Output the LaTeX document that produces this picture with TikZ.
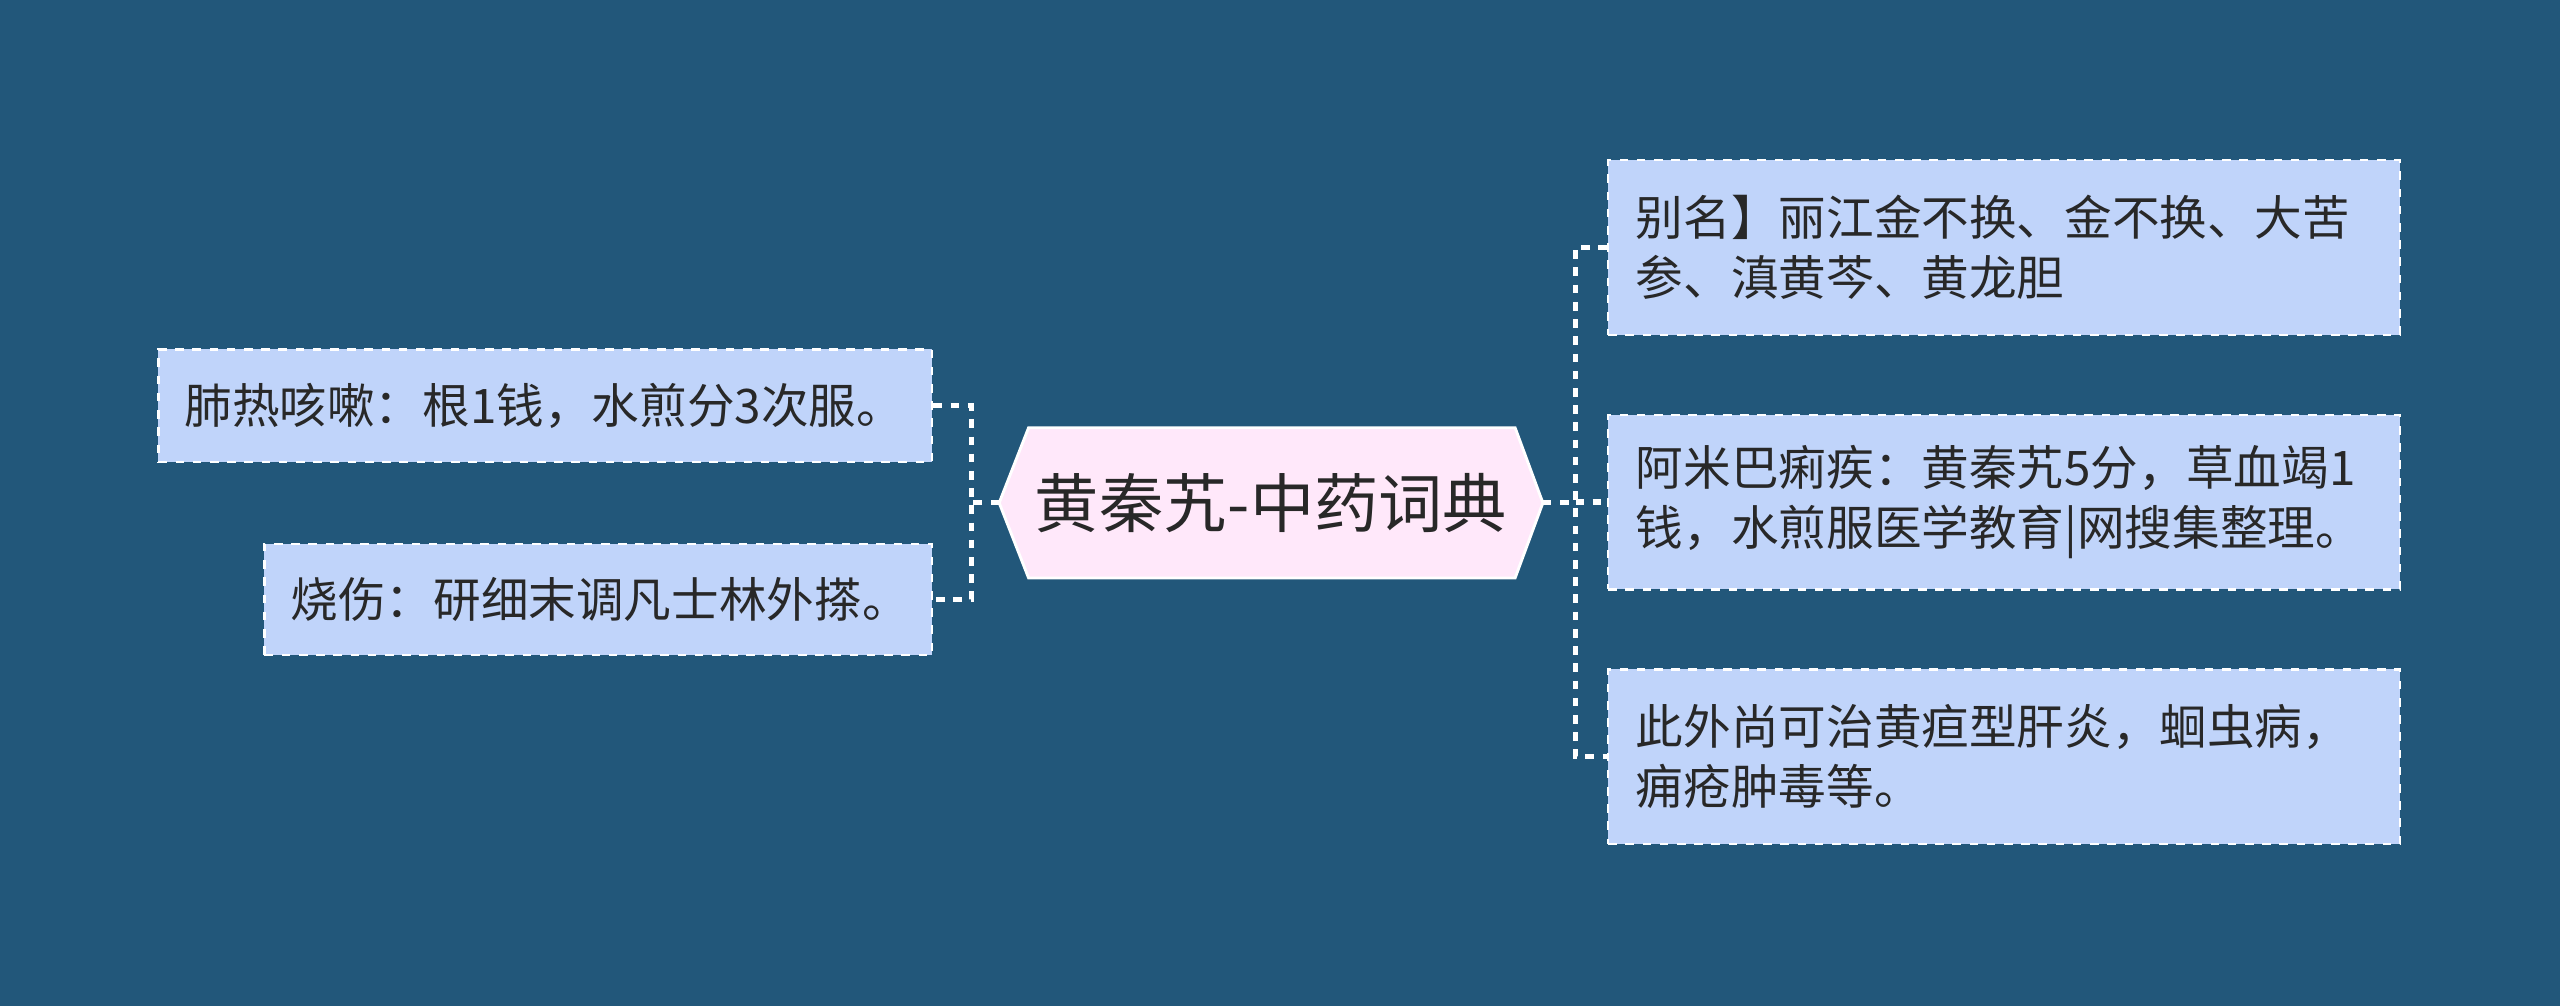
\documentclass[tikz,border=0pt]{standalone}
\usepackage{fontspec}
\setmainfont{Noto Sans CJK SC}
\definecolor{bg}{RGB}{34,87,122}
\definecolor{leaf}{RGB}{192,212,250}
\definecolor{ctr}{RGB}{255,232,250}
\definecolor{txt}{RGB}{40,40,40}
\tikzset{leafbox/.style={draw=white,dashed,fill=leaf,line width=0.8pt,inner sep=0pt,text=txt,font=\fontsize{16.6pt}{20.8pt}\selectfont,align=left},
conn/.style={draw=white,dashed,line width=1.8pt}}
\begin{document}
\begin{tikzpicture}[x=0.02cm,y=-0.02cm]
\fill[bg] (0,0) rectangle (1568,616);
\useasboundingbox (0,0) rectangle (1568,616);
\fill[ctr,draw=white,line width=1pt] (612,308)--(630,262)--(928,262)--(945,308)--(928,354)--(630,354)--cycle;
\node[text=txt,font=\fontsize{22.4pt}{26pt}\selectfont] (c) at (778.5,308) {黄秦艽-中药词典};
\coordinate (cl) at (612,308);
\coordinate (cr) at (945,308);
\node[leafbox,minimum width=474*0.02cm,minimum height=69*0.02cm,text width=442*0.02cm] (l1) at (334,248.5) {肺热咳嗽：根1钱，水煎分3次服。};
\node[leafbox,minimum width=409*0.02cm,minimum height=68*0.02cm,text width=377*0.02cm] (l2) at (366.5,367) {烧伤：研细末调凡士林外搽。};
\node[leafbox,minimum width=485*0.02cm,minimum height=107*0.02cm,text width=451*0.02cm] (r1) at (1227.5,151.5) {别名】丽江金不换、金不换、大苦\\参、滇黄芩、黄龙胆};
\node[leafbox,minimum width=485*0.02cm,minimum height=107*0.02cm,text width=451*0.02cm] (r2) at (1227.5,307.5) {阿米巴痢疾：黄秦艽5分，草血竭1\\钱，水煎服医学教育|网搜集整理。};
\node[leafbox,minimum width=485*0.02cm,minimum height=107*0.02cm,text width=451*0.02cm] (r3) at (1227.5,463.5) {此外尚可治黄疸型肝炎，蛔虫病，\\痈疮肿毒等。};
\draw[conn] (cl) -- (595,308);
\draw[conn] (l1.east) -- (595,248.5) -- (595,367) -- (l2.east);
\draw[conn] (cr) -- (965,308);
\draw[conn] (r1.west) -- (965,151.5) -- (965,463.5) -- (r3.west);
\draw[conn] (965,307.5) -- (r2.west);
\end{tikzpicture}
\end{document}
